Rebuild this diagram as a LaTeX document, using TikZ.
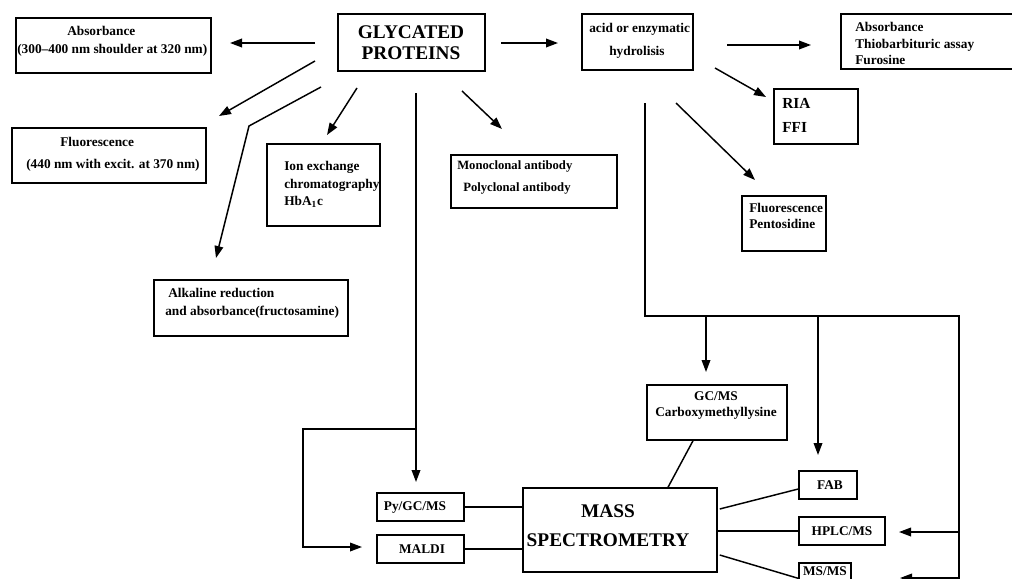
\documentclass[tikz,border=0pt]{standalone}
\usepackage{fontspec}
\setmainfont{Liberation Serif}
\usetikzlibrary{arrows.meta}
\begin{document}
\begin{tikzpicture}[x=0.75pt,y=-0.75pt,
  box/.style={draw, line width=1.1pt, inner sep=0pt},
  txt/.style={inner sep=0pt, align=left, font=\bfseries\fontsize{10}{13}\selectfont},
  big/.style={inner sep=0pt, align=center, font=\bfseries\fontsize{14.5}{15.75}\selectfont},
  arr/.style={line width=1.1pt, -{Triangle[length=9pt,width=6.5pt]}},
  conn/.style={line width=1.1pt}]
\useasboundingbox (0,0) rectangle (1012,578);
% ---------- boxes ----------
\node[box, minimum width=146.25pt, minimum height=41.25pt] (absL) at (113.5,45.5) {};
\node[box, minimum width=110.25pt, minimum height=42.75pt] (gly) at (411.5,42.5) {};
\node[box, minimum width=83.25pt, minimum height=42pt] (hyd) at (637.5,42) {};
\node[box, minimum width=138pt, minimum height=41.25pt] (absR) at (933,41.5) {};
\node[box, minimum width=63pt, minimum height=41.25pt] (ria) at (816,116.5) {};
\node[box, minimum width=63pt, minimum height=41.25pt] (pent) at (784,223.5) {};
\node[box, minimum width=145.5pt, minimum height=41.25pt] (fluo) at (109,155.5) {};
\node[box, minimum width=84.75pt, minimum height=61.5pt] (ion) at (323.5,185) {};
\node[box, minimum width=124.5pt, minimum height=39.75pt] (mono) at (534,181.5) {};
\node[box, minimum width=145.5pt, minimum height=42pt] (alk) at (251,308) {};
\node[box, minimum width=105pt, minimum height=41.25pt] (gcms) at (717,412.5) {};
\node[box, minimum width=145.5pt, minimum height=63pt] (ms) at (620,530) {};
\node[box, minimum width=43.5pt, minimum height=21pt] (fab) at (828,485) {};
\node[box, minimum width=64.5pt, minimum height=21pt] (hplc) at (842,531) {};
\node[box, minimum width=39pt, minimum height=21pt] (msms) at (825,577) {};
\node[box, minimum width=65.25pt, minimum height=21pt] (py) at (420.5,507) {};
\node[box, minimum width=65.25pt, minimum height=21pt] (maldi) at (420.5,549) {};
% ---------- texts ----------
\node[txt, anchor=west, font=\bfseries\fontsize{10}{13.5}\selectfont] (tabsL) at (17,41) {\hspace*{37.5pt}Absorbance\\(300--400 nm shoulder at 320 nm)};
\node[txt, anchor=west, font=\bfseries\fontsize{10}{16.5}\selectfont] (tfluo) at (26,154) {\hspace*{25.5pt}Fluorescence\\(440 nm with excit. at 370 nm)};
\node[big] (tgly) at (411,42.5) {GLYCATED\\PROTEINS};
\node[txt, anchor=west, font=\bfseries\fontsize{10}{17}\selectfont] (thyd) at (589,40.5) {acid or enzymatic\\\hspace*{15pt}hydrolisis};
\node[txt, anchor=west, font=\bfseries\fontsize{10}{12.4}\selectfont] (tabsR) at (855,43.5) {Absorbance\\Thiobarbituric assay\\Furosine};
\node[txt, anchor=west, font=\bfseries\fontsize{11.5}{18}\selectfont] (tria) at (782,115) {RIA\\FFI};
\node[txt, anchor=west, font=\bfseries\fontsize{10}{12}\selectfont] (tpent) at (749,216) {Fluorescence\\Pentosidine};
\node[txt, anchor=west, font=\bfseries\fontsize{10}{13}\selectfont] (tion) at (284,184.5) {Ion exchange\\chromatography\\HbA\textsubscript{1}c};
\node[txt, anchor=west, font=\bfseries\fontsize{9.5}{16}\selectfont] (tmono) at (457,177.5) {Monoclonal antibody\\\hspace*{4.5pt}Polyclonal antibody};
\node[txt, anchor=west, font=\bfseries\fontsize{10}{13.5}\selectfont] (talk) at (165,303) {\hspace*{2.25pt}Alkaline reduction\\and absorbance(fructosamine)};
\node[txt, align=center, font=\bfseries\fontsize{10}{11.3}\selectfont] (tgcms) at (716,405.5) {GC/MS\\Carboxymethyllysine};
\node[big, font=\bfseries\fontsize{14.5}{22}\selectfont] (tms) at (608,525.5) {MASS\\SPECTROMETRY};
\node[txt] (tfab) at (830,485) {FAB};
\node[txt] (thplc) at (842,531) {HPLC/MS};
\node[txt] (tmsms) at (825,571.5) {MS/MS};
\node[txt] (tpy) at (415,508) {Py/GC/MS};
\node[txt] (tmaldi) at (422,549) {MALDI};
% ---------- connector points ----------
\coordinate (a1s) at (315,43);  \coordinate (a1e) at (230,43);
\coordinate (a2s) at (501,43);  \coordinate (a2e) at (558,43);
\coordinate (a3s) at (727,45);  \coordinate (a3e) at (811,45);
\coordinate (a4s) at (715,68);  \coordinate (a4e) at (766,97);
\coordinate (a5s) at (676,103); \coordinate (a5e) at (755,180);
\coordinate (a6s) at (315,61);  \coordinate (a6e) at (219,116);
\coordinate (a7s) at (321,87);  \coordinate (a7b) at (249,126); \coordinate (a7e) at (216,258);
\coordinate (a8s) at (357,88);  \coordinate (a8e) at (327,135);
\coordinate (a9s) at (462,91);  \coordinate (a9e) at (502,129);
\coordinate (vGs) at (416,93);  \coordinate (vGe) at (416,482);
\coordinate (vGb) at (416,429); \coordinate (lb1) at (303,429);
\coordinate (lb2) at (303,547); \coordinate (lbe) at (362,547);
\coordinate (vHs) at (645,103); \coordinate (vHc) at (645,316);
\coordinate (vHr) at (959,316); \coordinate (vHe) at (959,600);
\coordinate (b1) at (706,316);  \coordinate (b1e) at (706,372);
\coordinate (b2) at (818,316);  \coordinate (b2e) at (818,455);
\coordinate (b3) at (959,532);  \coordinate (b3e) at (899,532);
\coordinate (b4) at (959,578);  \coordinate (b4e) at (900,578);
% ---------- arrows ----------
\draw[arr] (a1s) -- (a1e);
\draw[arr] (a2s) -- (a2e);
\draw[arr] (a3s) -- (a3e);
\draw[arr] (a4s) -- (a4e);
\draw[arr] (a5s) -- (a5e);
\draw[arr] (a6s) -- (a6e);
\draw[arr] (a7s) -- (a7b) -- (a7e);
\draw[arr] (a8s) -- (a8e);
\draw[arr] (a9s) -- (a9e);
\draw[arr] (vGs) -- (vGe);
\draw[arr] (vGb) -- (lb1) -- (lb2) -- (lbe);
\draw[conn] (vHs) -- (vHc) -- (vHr) -- (vHe);
\draw[arr] (b1) -- (b1e);
\draw[arr] (b2) -- (b2e);
\draw[arr] (b3) -- (b3e);
\draw[arr] (b4) -- (b4e);
% ---------- plain links ----------
\draw[conn] ([xshift=-18pt]gcms.south) -- ([xshift=36pt]ms.north);
\draw[conn] ([xshift=1.5pt,yshift=15.75pt]ms.east) -- ([yshift=-3pt]fab.west);
\draw[conn] (ms.east |- hplc.west) -- (hplc.west);
\draw[conn] ([xshift=1.5pt,yshift=-18.75pt]ms.east) -- ([yshift=-1pt]msms.west);
\draw[conn] (py.east) -- (py.east -| ms.west);
\draw[conn] (maldi.east) -- (maldi.east -| ms.west);
\end{tikzpicture}
\end{document}
